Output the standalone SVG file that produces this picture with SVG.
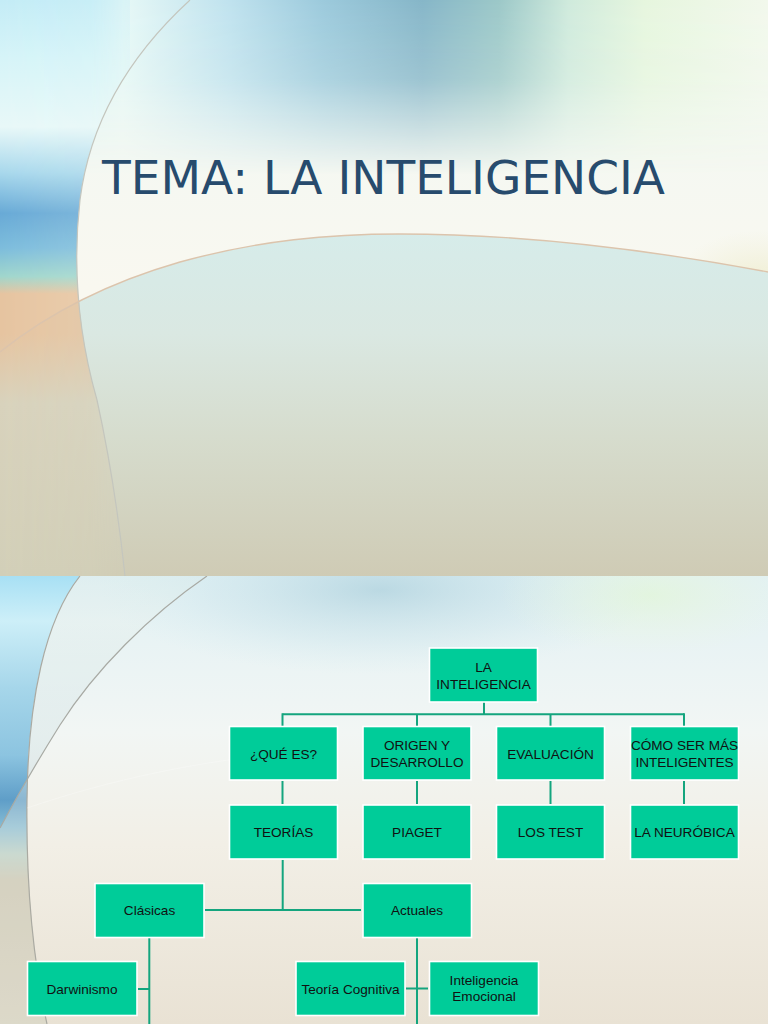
<svg xmlns="http://www.w3.org/2000/svg" width="768" height="1024" viewBox="0 0 768 1024">
<defs>
<style>
.box{fill:#00cc99;stroke:#ffffff;stroke-width:1.6}
.lbl{font-family:"Liberation Sans",Arial,sans-serif;font-size:13.6px;fill:#111;text-anchor:middle}
.con{stroke:#14a57e;stroke-width:2;fill:none}
.title{font-family:"DejaVu Sans",sans-serif;font-size:47px;fill:#274b6d}
</style>
<clipPath id="clipTop"><rect x="0" y="0" width="768" height="576"/></clipPath>
<clipPath id="clipBot"><rect x="0" y="576" width="768" height="448"/></clipPath>
<clipPath id="clipLeftTop"><path d="M0,0 L190,0 C130,55 90,120 80,200 C72,270 80,340 97,400 C108,450 118,510 125,576 L0,576 Z"/></clipPath>
<clipPath id="clipLeftBot"><path d="M0,576 L80,576 C45,620 28,700 27,800 C26,880 33,960 47,1024 L0,1024 Z"/></clipPath>
<clipPath id="clipMidBot"><path d="M80,576 L207,576 C150,615 95,670 60,725 C35,765 15,800 0,828 L0,1024 L47,1024 C33,960 26,880 27,800 C28,700 45,620 80,576 Z"/></clipPath>
<linearGradient id="topUpper" x1="0" y1="0" x2="0" y2="1">
<stop offset="0" stop-color="#f0f8f4"/>
<stop offset="0.5" stop-color="#f9f8f0"/>
<stop offset="1" stop-color="#faf8ee"/>
</linearGradient>
<linearGradient id="topBand" x1="0" y1="0" x2="1" y2="0">
<stop offset="0" stop-color="#c8eef6"/>
<stop offset="0.16" stop-color="#e6f8f6"/>
<stop offset="0.3" stop-color="#bfe2ee"/>
<stop offset="0.42" stop-color="#9ccadc"/>
<stop offset="0.55" stop-color="#86b6c8"/>
<stop offset="0.65" stop-color="#9cc8c8"/>
<stop offset="0.74" stop-color="#cfeadc"/>
<stop offset="0.84" stop-color="#e6f6de"/>
<stop offset="1" stop-color="#f2f8ec"/>
</linearGradient>
<linearGradient id="fadeY" x1="0" y1="0" x2="0" y2="1">
<stop offset="0" stop-color="#fff" stop-opacity="1"/>
<stop offset="0.45" stop-color="#fff" stop-opacity="0.8"/>
<stop offset="1" stop-color="#fff" stop-opacity="0"/>
</linearGradient>
<mask id="maskTopBand"><rect x="0" y="0" width="768" height="175" fill="url(#fadeY)"/></mask>
<linearGradient id="topLower" gradientUnits="userSpaceOnUse" x1="0" y1="230" x2="0" y2="576">
<stop offset="0" stop-color="#d6ecea"/>
<stop offset="0.3" stop-color="#dae8e2"/>
<stop offset="0.6" stop-color="#d6dccd"/>
<stop offset="1" stop-color="#cfcbb5"/>
</linearGradient>
<linearGradient id="leftStrip" gradientUnits="userSpaceOnUse" x1="0" y1="0" x2="0" y2="576">
<stop offset="0" stop-color="#c4ecf6"/>
<stop offset="0.1" stop-color="#d6f4f8"/>
<stop offset="0.22" stop-color="#e8f8f8"/>
<stop offset="0.3" stop-color="#a8d8ec"/>
<stop offset="0.37" stop-color="#68aad6"/>
<stop offset="0.43" stop-color="#7cbcdc"/>
<stop offset="0.48" stop-color="#a0d6cc"/>
<stop offset="0.51" stop-color="#e6c4a0"/>
<stop offset="0.58" stop-color="#e6c4a0"/>
<stop offset="0.7" stop-color="#d8d2bc"/>
<stop offset="1" stop-color="#d2cfb8"/>
</linearGradient>
<linearGradient id="fadeX" x1="0" y1="0" x2="1" y2="0">
<stop offset="0" stop-color="#fff" stop-opacity="1"/>
<stop offset="0.7" stop-color="#fff" stop-opacity="0.85"/>
<stop offset="1" stop-color="#fff" stop-opacity="0.3"/>
</linearGradient>
<mask id="maskLeft"><rect x="0" y="0" width="130" height="576" fill="url(#fadeX)"/></mask>
<radialGradient id="yellowCloud">
<stop offset="0" stop-color="#ecebc8" stop-opacity="0.9"/>
<stop offset="1" stop-color="#f0eed4" stop-opacity="0"/>
</radialGradient>
<radialGradient id="blueCloud">
<stop offset="0" stop-color="#8fbed0" stop-opacity="0.8"/>
<stop offset="0.6" stop-color="#b4d8e4" stop-opacity="0.4"/>
<stop offset="1" stop-color="#c8e8f0" stop-opacity="0"/>
</radialGradient>
<radialGradient id="greenCloud">
<stop offset="0" stop-color="#e2f6d6" stop-opacity="1"/>
<stop offset="1" stop-color="#eaf6e0" stop-opacity="0"/>
</radialGradient>
<linearGradient id="botBase" gradientUnits="userSpaceOnUse" x1="0" y1="576" x2="0" y2="1024">
<stop offset="0" stop-color="#e2f1f4"/>
<stop offset="0.35" stop-color="#f2f6f4"/>
<stop offset="0.6" stop-color="#f2efe6"/>
<stop offset="1" stop-color="#e9e2d4"/>
</linearGradient>
<linearGradient id="botLeft" gradientUnits="userSpaceOnUse" x1="0" y1="576" x2="0" y2="1024">
<stop offset="0" stop-color="#a8e0f4"/>
<stop offset="0.1" stop-color="#cdeff8"/>
<stop offset="0.25" stop-color="#a6d6ea"/>
<stop offset="0.4" stop-color="#8cc4e0"/>
<stop offset="0.5" stop-color="#5f9ec8"/>
<stop offset="0.56" stop-color="#86bcd4"/>
<stop offset="0.62" stop-color="#b8cfc6"/>
<stop offset="0.68" stop-color="#c8c4b0"/>
<stop offset="1" stop-color="#d2cebc"/>
</linearGradient>
</defs>

<!-- top slide background -->
<g id="slide1-bg" clip-path="url(#clipTop)">
<rect x="0" y="0" width="768" height="576" fill="url(#topUpper)"/>
<rect x="0" y="0" width="768" height="175" fill="url(#topBand)" mask="url(#maskTopBand)"/>
<ellipse cx="760" cy="290" rx="90" ry="60" fill="url(#yellowCloud)"/>
<path d="M0,352 C40,320 100,285 180,262 C260,240 330,234 400,234 C520,234 640,248 768,272 L768,576 L0,576 Z" fill="url(#topLower)"/>
<g clip-path="url(#clipLeftTop)"><rect x="0" y="0" width="130" height="576" fill="url(#leftStrip)" mask="url(#maskLeft)"/></g>
<path d="M190,0 C130,55 90,120 80,200 C72,270 80,340 97,400 C108,450 118,510 125,576" fill="none" stroke="#c4c6be" stroke-width="1.2"/>
<path d="M0,352 C40,320 100,285 180,262 C260,240 330,234 400,234 C520,234 640,248 768,272" fill="none" stroke="#dcc4ac" stroke-width="1.4"/>
</g>
<text class="title" x="102" y="194">TEMA: LA INTELIGENCIA</text>

<!-- bottom slide background -->
<g id="slide2-bg" clip-path="url(#clipBot)">
<rect x="0" y="576" width="768" height="448" fill="url(#botBase)"/>
<ellipse cx="380" cy="590" rx="280" ry="85" fill="url(#blueCloud)" opacity="0.6"/>
<ellipse cx="650" cy="595" rx="150" ry="60" fill="url(#greenCloud)" opacity="0.7"/>
<g clip-path="url(#clipLeftBot)"><rect x="0" y="576" width="90" height="448" fill="url(#botLeft)"/></g>
<g clip-path="url(#clipMidBot)"><rect x="0" y="576" width="210" height="448" fill="url(#botLeft)" opacity="0.22"/><rect x="0" y="576" width="210" height="448" fill="#f4f2e8" opacity="0.3"/></g>
<path d="M80,576 C45,620 28,700 27,800 C26,880 33,960 47,1024" fill="none" stroke="#aaaaa2" stroke-width="1.2"/>
<path d="M207,576 C150,615 95,670 60,725 C35,765 15,800 0,828" fill="none" stroke="#a8aaa4" stroke-width="1.2"/>
<path d="M27,808 C110,780 200,760 300,752" fill="none" stroke="#ffffff" stroke-width="1" opacity="0.25"/>
</g>

<!-- connectors -->
<g id="connectors" class="con">
<line x1="484" y1="702" x2="484" y2="714.3"/>
<line x1="282.5" y1="714.3" x2="684" y2="714.3"/>
<line x1="282.5" y1="713.3" x2="282.5" y2="726"/>
<line x1="417" y1="714.3" x2="417" y2="726"/>
<line x1="550.5" y1="714.3" x2="550.5" y2="726"/>
<line x1="684" y1="713.3" x2="684" y2="726"/>
<line x1="282.5" y1="781" x2="282.5" y2="804"/>
<line x1="417" y1="781" x2="417" y2="804"/>
<line x1="550.5" y1="781" x2="550.5" y2="804"/>
<line x1="684" y1="781" x2="684" y2="804"/>
<line x1="282.7" y1="860" x2="282.7" y2="910"/>
<line x1="205" y1="910" x2="361" y2="910"/>
<line x1="149.3" y1="938" x2="149.3" y2="1024"/>
<line x1="138" y1="989" x2="149.3" y2="989"/>
<line x1="417" y1="938" x2="417" y2="1024"/>
<line x1="406" y1="988.5" x2="428" y2="988.5"/>
</g>

<!-- nodes -->
<g id="n-root"><rect class="box" x="429.5" y="648" width="108" height="54"/><text class="lbl" x="483.5" y="672">LA</text><text class="lbl" x="483.5" y="688.7">INTELIGENCIA</text></g>
<g id="n-quees"><rect class="box" x="229.5" y="726.5" width="108" height="53.5"/><text class="lbl" x="283.5" y="758.7">¿QUÉ ES?</text></g>
<g id="n-origen"><rect class="box" x="363" y="726.5" width="108" height="53.5"/><text class="lbl" x="417" y="750">ORIGEN Y</text><text class="lbl" x="417" y="766.7">DESARROLLO</text></g>
<g id="n-evaluacion"><rect class="box" x="496.5" y="726.5" width="108" height="53.5"/><text class="lbl" x="550.5" y="758.7">EVALUACIÓN</text></g>
<g id="n-como"><rect class="box" x="630.5" y="726.5" width="108" height="53.5"/><text class="lbl" x="684.5" y="750">CÓMO SER MÁS</text><text class="lbl" x="684.5" y="766.7">INTELIGENTES</text></g>
<g id="n-teorias"><rect class="box" x="229.5" y="805" width="108" height="54"/><text class="lbl" x="283.5" y="837">TEORÍAS</text></g>
<g id="n-piaget"><rect class="box" x="363" y="805" width="108" height="54"/><text class="lbl" x="417" y="837">PIAGET</text></g>
<g id="n-lostest"><rect class="box" x="496.5" y="805" width="108" height="54"/><text class="lbl" x="550.5" y="837">LOS TEST</text></g>
<g id="n-neurobica"><rect class="box" x="630.5" y="805" width="108" height="54"/><text class="lbl" x="684.5" y="837">LA NEURÓBICA</text></g>
<g id="n-clasicas"><rect class="box" x="95" y="883.5" width="109" height="54"/><text class="lbl" x="149.5" y="915">Clásicas</text></g>
<g id="n-actuales"><rect class="box" x="363" y="883.5" width="108.5" height="54"/><text class="lbl" x="417" y="915">Actuales</text></g>
<g id="n-darwinismo"><rect class="box" x="27.5" y="961.5" width="109.5" height="54"/><text class="lbl" x="82" y="993.5">Darwinismo</text></g>
<g id="n-cognitiva"><rect class="box" x="296" y="961.5" width="109" height="54"/><text class="lbl" x="350.5" y="993.5">Teoría Cognitiva</text></g>
<g id="n-emocional"><rect class="box" x="429.5" y="961.5" width="109" height="54"/><text class="lbl" x="484" y="984.7">Inteligencia</text><text class="lbl" x="484" y="1001.3">Emocional</text></g>
</svg>
